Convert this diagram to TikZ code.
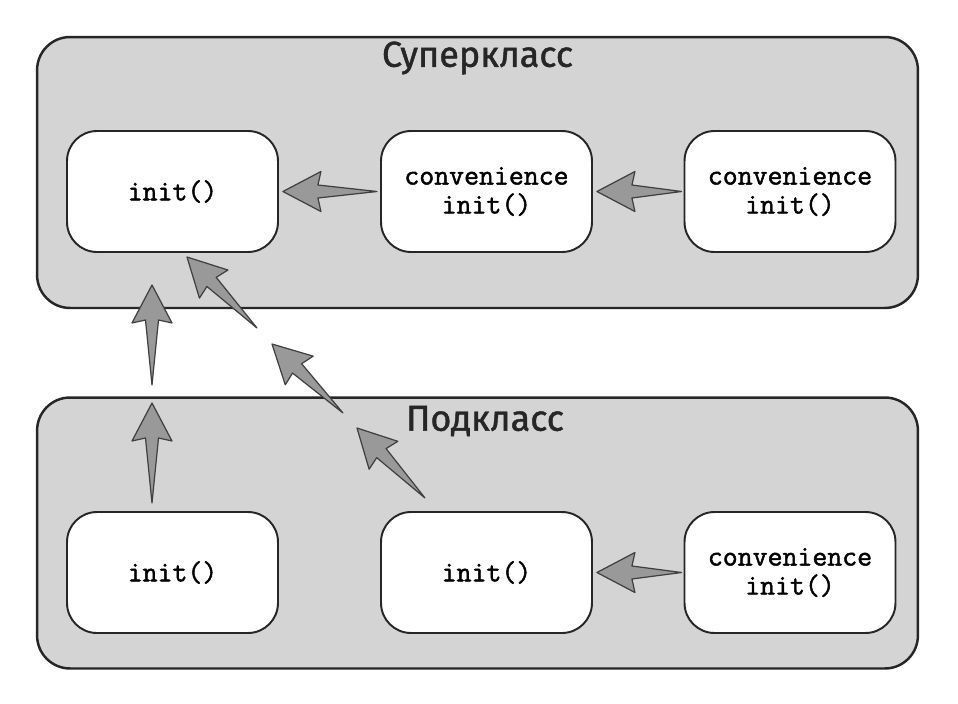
\documentclass[tikz,border=0pt]{standalone}
\usepackage{fontspec}
\newfontfamily\titlefont[FakeBold=1.2]{Fira Sans}
\newfontfamily\codefont[FakeBold=1.6]{Latin Modern Mono}
\usetikzlibrary{calc,positioning}

\tikzset{
  group/.style={draw=black!85, line width=1.4pt, fill=black!17,
                rounded corners=0.66cm, minimum width=17.62cm,
                minimum height=5.42cm, inner sep=0pt},
  method/.style={draw=black!85, line width=1.1pt, fill=white,
                 rounded corners=0.6cm, minimum width=4.22cm,
                 minimum height=2.42cm, align=center, inner sep=0pt,
                 font=\codefont\fontsize{16.5}{16.5}\selectfont},
  grouptitle/.style={font=\titlefont\fontsize{20.5}{24}\selectfont, text=black!85},
  fatarrow/.style={fill=black!40, draw=black!75, line width=0.7pt, line join=round},
}

% tapered block arrow from #1 (tail) to #2 (tip)
\newcommand\fatarrow[2]{%
  \filldraw[fatarrow] (#2)
    -- ($(#2)!0.76cm!(#1)!0.4cm!90:(#1)$)
    -- ($(#2)!0.7cm!(#1)!0.13cm!90:(#1)$)
    -- (#1)
    -- ($(#2)!0.7cm!(#1)!0.13cm!-90:(#1)$)
    -- ($(#2)!0.76cm!(#1)!0.4cm!-90:(#1)$)
    -- cycle;}

\begin{document}
\begin{tikzpicture}[x=0.02cm, y=-0.02cm]
\useasboundingbox (0,0) rectangle (958,704);

%% -- Groups ----------------------------------------------------------------
\node[group] (super) at (477.5,172.5) {};
\node[group] (sub)   at (477.5,533) {};
\node[grouptitle] (supertitle) at (477.5,58) {Суперкласс};
\node[grouptitle] (subtitle)   at (485,421)  {Подкласс};

%% -- Initializers ----------------------------------------------------------
\node[method] (sinit)  at (172.5,191.5) {init()};
\node[method] (sconv)  at (486.5,191.5) {convenience\\init()};
\node[method] (sconvb) at (790,191.5)   {convenience\\init()};

\node[method] (binit)  at (172.5,572.5) {init()};
\node[method] (binitb) at (486.5,572.5) {init()};
\node[method] (bconv)  at (790,572.5)   {convenience\\init()};

%% -- Delegation points -----------------------------------------------------
\coordinate (h1a) at ($(sconv.west)+(-3,0)$);
\coordinate (h1b) at ($(sinit.east)+(4,0)$);
\coordinate (h2a) at ($(sconvb.west)+(-2,0)$);
\coordinate (h2b) at ($(sconv.east)+(4,0)$);
\coordinate (h3a) at ($(bconv.west)+(-2,0)$);
\coordinate (h3b) at ($(binitb.east)+(4,0)$);

\coordinate (v1) at (152,503);
\coordinate (v2) at (152,403);
\coordinate (v3) at (152,385);
\coordinate (v4) at (152,285);

\coordinate (d1) at (425,498);
\coordinate (d2) at (357,428);
\coordinate (d3) at (343,413);
\coordinate (d4) at (272,344);
\coordinate (d5) at (257,328);
\coordinate (d6) at (187,257);

%% -- Delegation arrows -----------------------------------------------------
\fatarrow{h1a}{h1b}
\fatarrow{h2a}{h2b}
\fatarrow{h3a}{h3b}

% subclass designated init -> superclass designated init
\fatarrow{v1}{v2}
\fatarrow{v3}{v4}

\fatarrow{d1}{d2}
\fatarrow{d3}{d4}
\fatarrow{d5}{d6}

\end{tikzpicture}
\end{document}
